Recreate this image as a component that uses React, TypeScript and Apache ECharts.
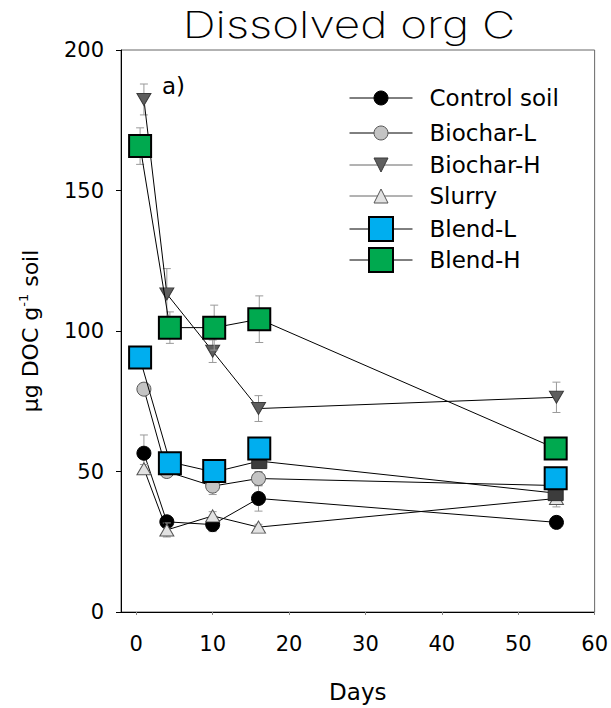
import React, { useEffect, useRef } from "react";
import * as echarts from "echarts";

// Sampling days (circles / triangles) and the slightly offset days used for the square markers
const DAYS = [1, 4, 10, 16, 55];
const SQUARE_DAYS = [0.5, 4.4, 10.2, 16.1, 54.9];

// DOC, µg g-1 soil, with standard errors
const CONTROL = [56.5, 32.1, 31.1, 40.4, 31.9];
const CONTROL_SE = [6.5, 1.5, 2.5, 4.5, 2];
const BIOCHAR_L = [79.3, 50.0, 44.8, 47.5, 45.0];
const BIOCHAR_L_SE = [1.5, 1.5, 3, 2.5, 1.5];
const BIOCHAR_H = [182.4, 113.2, 92.8, 72.4, 76.4];
const BIOCHAR_H_SE = [5.5, 9, 4, 4.6, 5.4];
const SLURRY = [51.0, 29.2, 34.2, 30.2, 40.4];
const SLURRY_SE = [1.5, 2.5, 1.5, 1, 3];
const BLEND_L = [90.6, 52.9, 50.2, 58.2, 47.6];
const BLEND_L_TRACE = [90.0, 53.4, 49.8, 53.7, 42.3];
const BLEND_H = [165.8, 101.2, 101.2, 104.2, 58.2];
const BLEND_H_SE = [6.5, 5.6, 8, 8.3, 2];

const X_TICKS = [0, 10, 20, 30, 40, 50, 60];
const LEGEND_NAMES = ["Control soil", "Biochar-L", "Biochar-H", "Slurry", "Blend-L", "Blend-H"];

const FONT = "DejaVu Sans";
const DOWN_TRIANGLE = "path://M0,0L14,0L7,12Z";

function pairs(xs: number[], ys: number[]) {
  return xs.map((x, i) => [x, ys[i]]);
}

function errorBars(name: string, xs: number[], ys: number[], errs: number[], z: number) {
  return {
    type: "custom",
    name,
    z,
    silent: true,
    data: xs.map((x, i) => [x, ys[i], errs[i]]),
    encode: { x: 0, y: 1 },
    renderItem: (_params: any, api: any) => {
      const x = api.value(0);
      const y = api.value(1);
      const e = api.value(2);
      const top = api.coord([x, y + e]);
      const bot = api.coord([x, y - e]);
      const hw = 4;
      const style = { stroke: "#9a9a9a", lineWidth: 1 };
      return {
        type: "group",
        children: [
          { type: "line", shape: { x1: top[0], y1: top[1], x2: bot[0], y2: bot[1] }, style },
          { type: "line", shape: { x1: top[0] - hw, y1: top[1], x2: top[0] + hw, y2: top[1] }, style },
          { type: "line", shape: { x1: bot[0] - hw, y1: bot[1], x2: bot[0] + hw, y2: bot[1] }, style },
        ],
      };
    },
  };
}

function lineSeries(name: string, xs: number[], ys: number[], symbol: string, size: any, itemStyle: any, z: number) {
  return {
    type: "line",
    name,
    z,
    silent: true,
    data: pairs(xs, ys),
    symbol,
    symbolSize: size,
    showAllSymbol: true,
    itemStyle: { ...itemStyle, opacity: 1 },
    lineStyle: { color: "#000", width: 1 },
    emphasis: { disabled: true },
  };
}

export default function App() {
  const ref = useRef<HTMLDivElement>(null);

  useEffect(() => {
    if (!ref.current) return;
    const chart = echarts.init(ref.current, undefined, { renderer: "svg" });

    const rowCenters = [98, 133, 165, 196, 231, 262];
    const legendItem: any = {
      "Control soil": { h: 17.5, itemStyle: { color: "#000", borderColor: "#000", borderWidth: 1 } },
      "Biochar-L": { h: 17.5, itemStyle: { color: "#c4c4c4", borderColor: "#555", borderWidth: 1 } },
      "Biochar-H": { h: 17.5, itemStyle: { color: "#5e5e5e", borderColor: "#3a3a3a", borderWidth: 1 }, line: "#666" },
      Slurry: { h: 17.5, itemStyle: { color: "#e2e2e2", borderColor: "#555", borderWidth: 1 }, line: "#666" },
      "Blend-L": { h: 30, itemStyle: { color: "#00AEEF", borderColor: "#000", borderWidth: 2 } },
      "Blend-H": { h: 30, itemStyle: { color: "#00A94F", borderColor: "#000", borderWidth: 2 } },
    };
    const legends = LEGEND_NAMES.map((name, i) => {
      const it = legendItem[name];
      const boxH = Math.max(it.h, 24);
      return {
        left: 349,
        top: rowCenters[i] - boxH / 2,
        padding: 0,
        itemWidth: 63,
        itemHeight: it.h,
        selectedMode: false,
        textStyle: { fontFamily: FONT, fontSize: 23, color: "#000", lineHeight: 24, padding: [0, 0, 0, 12] },
        data: [
          {
            name,
            itemStyle: it.itemStyle,
            lineStyle: { color: it.line || "#000", width: 1 },
          },
        ],
      };
    });

    chart.setOption({
      animation: false,
      textStyle: { fontFamily: FONT },
      grid: {
        left: 121,
        right: 8,
        top: 50,
        bottom: 96,
        show: true,
        borderColor: "#666",
        borderWidth: 1,
        backgroundColor: "transparent",
      },
      legend: legends,
      xAxis: {
        type: "value",
        min: -2,
        max: 60,
        name: "Days",
        nameLocation: "middle",
        nameGap: 68,
        nameTextStyle: { fontFamily: FONT, fontSize: 23, color: "#000" },
        axisLine: { show: true, onZero: false, lineStyle: { color: "#000", width: 1 } },
        axisTick: { show: true, customValues: X_TICKS, length: 3, lineStyle: { color: "#888" } },
        axisLabel: { customValues: X_TICKS, fontFamily: FONT, fontSize: 21, color: "#000", margin: 21 },
        splitLine: { show: false },
      },
      yAxis: {
        type: "value",
        min: 0,
        max: 200,
        interval: 50,
        name: "µg DOC g{sup|-1} soil",
        nameLocation: "middle",
        nameRotate: 90,
        nameGap: 78,
        nameTextStyle: {
          fontFamily: FONT,
          fontSize: 22,
          color: "#000",
          lineHeight: 26,
          rich: { sup: { fontFamily: FONT, fontSize: 13, lineHeight: 12, verticalAlign: "top", color: "#000" } },
        },
        axisLine: { show: true, onZero: false, lineStyle: { color: "#000", width: 1 } },
        axisTick: { show: true, length: 5, lineStyle: { color: "#000" } },
        axisLabel: { fontFamily: FONT, fontSize: 21, color: "#000", margin: 17 },
        splitLine: { show: false },
      },
      graphic: [
        {
          type: "text",
          x: 349,
          y: 25,
          scaleX: 1.24,
          style: {
            text: "Dissolved org C",
            fontFamily: "Inter",
            fontSize: 37,
            fontWeight: 200,
            fill: "#000",
            align: "center",
            verticalAlign: "middle",
          },
        },
        {
          type: "text",
          x: 162,
          y: 86,
          style: { text: "a)", fontFamily: FONT, fontSize: 23, fill: "#000", align: "left", verticalAlign: "middle" },
        },
      ],
      series: [
        errorBars("Control soil SE", DAYS, CONTROL, CONTROL_SE, 2),
        lineSeries("Control soil", DAYS, CONTROL, "circle", 14, legendItem["Control soil"].itemStyle, 3),
        errorBars("Biochar-L SE", DAYS, BIOCHAR_L, BIOCHAR_L_SE, 4),
        lineSeries("Biochar-L", DAYS, BIOCHAR_L, "circle", 14, legendItem["Biochar-L"].itemStyle, 5),
        errorBars("Biochar-H SE", DAYS, BIOCHAR_H, BIOCHAR_H_SE, 6),
        lineSeries("Biochar-H", DAYS, BIOCHAR_H, DOWN_TRIANGLE, [14, 12], legendItem["Biochar-H"].itemStyle, 7),
        errorBars("Slurry SE", DAYS, SLURRY, SLURRY_SE, 8),
        lineSeries("Slurry", DAYS, SLURRY, "triangle", [14, 12], legendItem.Slurry.itemStyle, 9),
        lineSeries("Blend-L", SQUARE_DAYS, BLEND_L_TRACE, "rect", 15, { color: "#3c3c3c", borderColor: "#2a2a2a", borderWidth: 1 }, 10),
        {
          type: "scatter",
          name: "Blend-L squares",
          z: 11,
          silent: true,
          data: pairs(SQUARE_DAYS, BLEND_L),
          symbol: "rect",
          symbolSize: 22,
          itemStyle: { ...legendItem["Blend-L"].itemStyle, opacity: 1 },
          emphasis: { disabled: true },
        },
        errorBars("Blend-H SE", SQUARE_DAYS, BLEND_H, BLEND_H_SE, 12),
        lineSeries("Blend-H", SQUARE_DAYS, BLEND_H, "rect", 22, legendItem["Blend-H"].itemStyle, 13),
      ],
    });

    return () => chart.dispose();
  }, []);

  return (
    <div
      ref={ref}
      style={{ position: "absolute", left: 0, top: 0, width: 611, height: 708, background: "#fff" }}
    />
  );
}
